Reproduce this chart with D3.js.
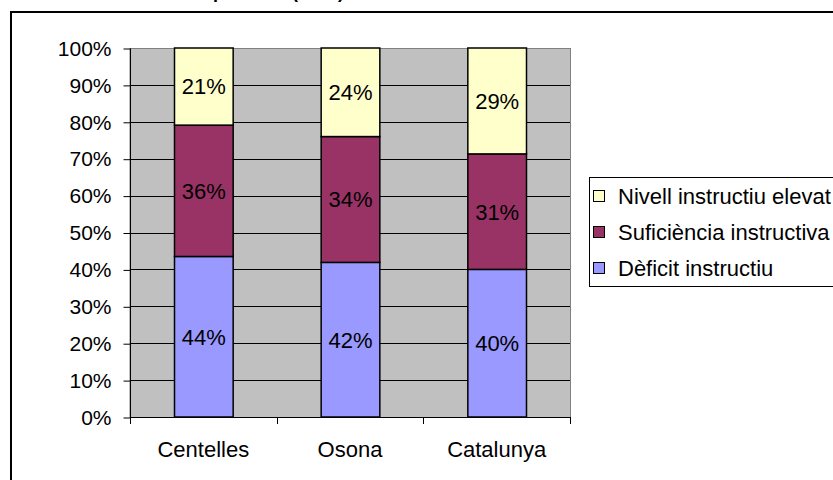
<!DOCTYPE html>
<html>
<head>
<meta charset="utf-8">
<script src="https://cdn.jsdelivr.net/npm/d3@7"></script>
<style>
  body { margin: 0; background: #fff; }
  text { font-family: "Liberation Sans", Arial, sans-serif; }
</style>
</head>
<body>
<script>
var categories = ["Centelles", "Osona", "Catalunya"];
var seriesNames = ["Dèficit instructiu", "Suficiència instructiva", "Nivell instructiu elevat"];
var deficit = [43.5, 41.9, 40.0];
var suficiencia = [35.6, 34.1, 31.3];
var elevat = [20.9, 24.0, 28.7];
var colors = ["#9999ff", "#993366", "#ffffcc"];
var yTicks = [0, 10, 20, 30, 40, 50, 60, 70, 80, 90, 100];

var rows = categories.map(function (c, i) {
  return { cat: c, s0: deficit[i], s1: suficiencia[i], s2: elevat[i] };
});

var W = 833, H = 480;
var pLeft = 130, pRight = 570, pTop = 48, pBottom = 417;

var svg = d3.select("body").append("svg")
  .attr("width", W).attr("height", H);

// title (mostly cut off above the picture)
svg.append("text")
  .attr("x", 344).attr("y", -2)
  .attr("text-anchor", "end")
  .attr("font-size", 18).attr("font-weight", "bold")
  .text("Nivell instructiu de la població (2001)");

// outer chart frame
svg.append("rect")
  .attr("x", 11).attr("y", 12).attr("width", 900).attr("height", 600)
  .attr("fill", "none").attr("stroke", "#000").attr("stroke-width", 2);

var x = d3.scaleBand().domain(categories).range([pLeft, pRight])
  .paddingInner(0.6).paddingOuter(0.3);
var y = d3.scaleLinear().domain([0, 100]).range([pBottom, pTop]);

// plot area
svg.append("rect")
  .attr("x", pLeft).attr("y", pTop + 0.5).attr("width", pRight - pLeft + 0.5).attr("height", pBottom - pTop)
  .attr("fill", "#c0c0c0").attr("stroke", "#808080").attr("stroke-width", 1);

svg.append("g").selectAll("line")
  .data(yTicks.filter(function (d) { return d > 0 && d < 100; }))
  .enter().append("line")
  .attr("x1", pLeft).attr("x2", pRight)
  .attr("y1", function (d) { return Math.round(y(d)) + 0.5; })
  .attr("y2", function (d) { return Math.round(y(d)) + 0.5; })
  .attr("stroke", "#000").attr("stroke-width", 1);

// stacked bars
var stack = d3.stack().keys(["s0", "s1", "s2"]);
var layers = stack(rows);

var g = svg.append("g");
layers.forEach(function (layer, li) {
  g.selectAll("rect.l" + li)
    .data(layer)
    .enter().append("rect")
    .attr("class", "l" + li)
    .attr("x", function (d) { return x(d.data.cat) + 0.5; })
    .attr("y", function (d) { return y(Math.min(d[1], 100)); })
    .attr("width", x.bandwidth())
    .attr("height", function (d) { return y(d[0]) - y(Math.min(d[1], 100)); })
    .attr("fill", colors[li])
    .attr("stroke", "#000").attr("stroke-width", 1.5);

  g.selectAll("text.l" + li)
    .data(layer)
    .enter().append("text")
    .attr("x", function (d) { return x(d.data.cat) + x.bandwidth() / 2 + 0.5; })
    .attr("y", function (d) { return (y(d[0]) + y(Math.min(d[1], 100))) / 2; })
    .attr("dy", "0.36em")
    .attr("text-anchor", "middle")
    .attr("font-size", 22)
    .attr("fill", "#000")
    .text(function (d) { return d3.format(".0f")(d[1] - d[0]) + "%"; });
});

// y axis
var yAxis = d3.axisLeft(y).tickValues(yTicks).tickSize(7).tickPadding(12)
  .tickFormat(function (d) { return d + "%"; });
var ya = svg.append("g").attr("transform", "translate(" + (pLeft + 0.5) + ",0.5)").call(yAxis);
ya.select(".domain").attr("stroke", "#000").attr("d", "M0," + pTop + "V" + pBottom);
ya.selectAll("text").attr("font-size", 21).attr("font-family", "Liberation Sans, Arial, sans-serif").attr("fill", "#000");

// x axis with ticks on category boundaries
svg.append("line")
  .attr("x1", pLeft).attr("x2", pRight + 1)
  .attr("y1", pBottom + 0.5).attr("y2", pBottom + 0.5)
  .attr("stroke", "#000");
var bounds = [pLeft].concat(categories.map(function (c) { return x(c) + x.bandwidth() + x.step() * 0.3; }));
svg.append("g").selectAll("line")
  .data(bounds)
  .enter().append("line")
  .attr("x1", function (d) { return Math.round(d) + 0.5; })
  .attr("x2", function (d) { return Math.round(d) + 0.5; })
  .attr("y1", pBottom).attr("y2", pBottom + 7)
  .attr("stroke", "#000");
svg.append("g").selectAll("text")
  .data(categories)
  .enter().append("text")
  .attr("x", function (d) { return x(d) + x.bandwidth() / 2; })
  .attr("y", 457)
  .attr("text-anchor", "middle")
  .attr("font-size", 22)
  .text(function (d) { return d; });

// legend
svg.append("rect")
  .attr("x", 589.5).attr("y", 177.5).attr("width", 300).attr("height", 109)
  .attr("fill", "#fff").attr("stroke", "#000");
var legendItems = [2, 1, 0];
var lg = svg.append("g").selectAll("g")
  .data(legendItems)
  .enter().append("g")
  .attr("transform", function (d, i) { return "translate(0," + (196 + i * 36) + ")"; });
lg.append("rect")
  .attr("x", 593.5).attr("y", -5.5).attr("width", 11).attr("height", 11)
  .attr("fill", function (d) { return colors[d]; })
  .attr("stroke", "#000");
lg.append("text")
  .attr("x", 618).attr("dy", "0.36em")
  .attr("font-size", 22)
  .text(function (d) { return seriesNames[d]; });
</script>
</body>
</html>
